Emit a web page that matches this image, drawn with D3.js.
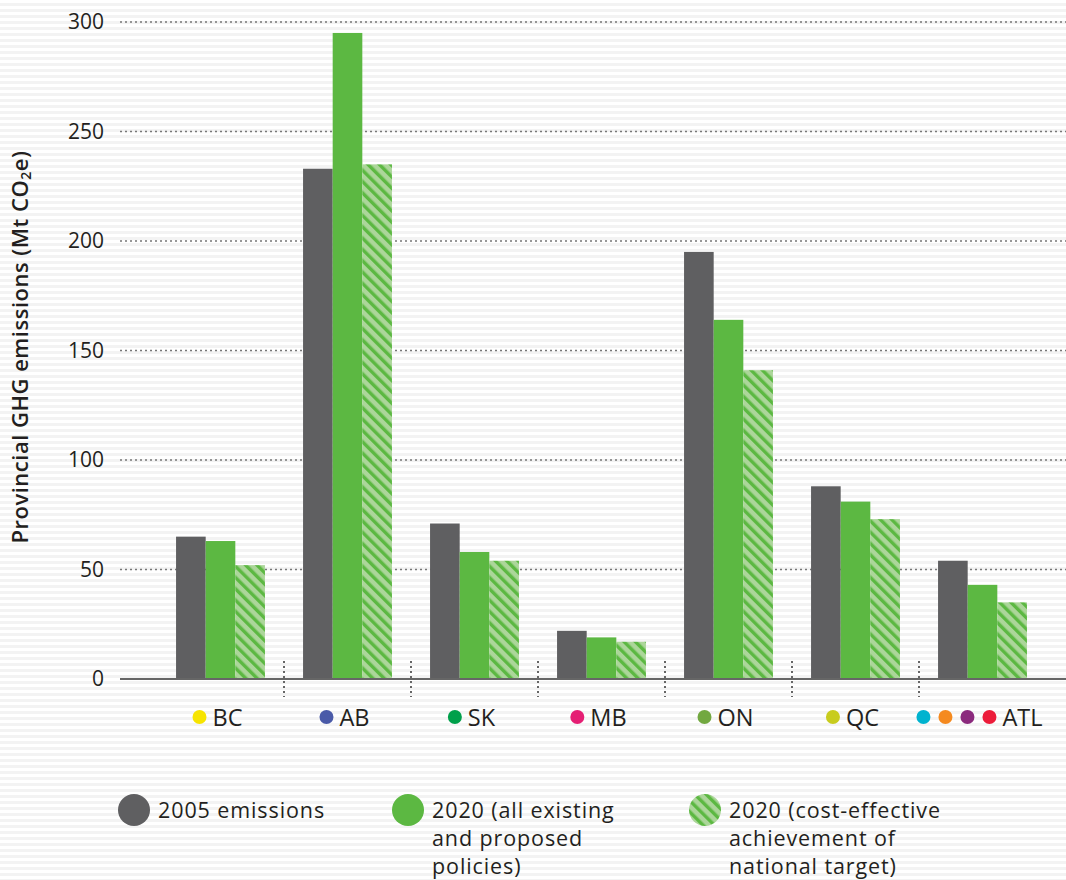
<!DOCTYPE html>
<html>
<head>
<meta charset="utf-8">
<script src="https://cdnjs.cloudflare.com/ajax/libs/d3/7.8.5/d3.min.js"></script>
<style>
  body { margin: 0; background: #fff; }
  svg { display: block; font-family: "Open Sans", sans-serif; }
</style>
</head>
<body>
<svg id="chart" width="1066" height="880"></svg>
<script>
// provinces and the dots shown next to each label
const provinces = ["BC", "AB", "SK", "MB", "ON", "QC", "ATL"];
const provinceDots = [
    ["#f7e400"], ["#4a5aa8"], ["#00a04b"], ["#e51f74"], ["#72a840"], ["#c8cc1e"],
    ["#00b3cf", "#f58a1f", "#8b2a7d", "#ec1c3a"]
];

// Mt CO2e
const emissions2005 = [65, 233, 71, 22, 195, 88, 54];
const policies2020 = [63, 295, 58, 19, 164, 81, 43];
const target2020 = [52, 235, 54, 17, 141, 73, 35];

const seriesNames = ["e2005", "p2020", "t2020"];
const legendLabels = [
    ["2005 emissions"],
    ["2020 (all existing", "and proposed", "policies)"],
    ["2020 (cost-effective", "achievement of", "national target)"]
];
const yTicks = [0, 50, 100, 150, 200, 250, 300];

const svg = d3.select("#chart");
const W = 1066, H = 880;
const plotLeft = 120, plotRight = 1066, yTop = 22, yBottom = 679;
const textColor = "#231f20";

const defs = svg.append("defs");
// faint horizontal stripes of the background
const bg = defs.append("pattern").attr("id", "stripes")
    .attr("patternUnits", "userSpaceOnUse").attr("width", 10).attr("height", 6);
bg.append("rect").attr("width", 10).attr("height", 6).attr("fill", "#ffffff");
bg.append("rect").attr("y", 3).attr("width", 10).attr("height", 3).attr("fill", "#f3f3f3");

// hatched fill, stripes running down to the right
const hatch = defs.append("pattern").attr("id", "hatch")
    .attr("patternUnits", "userSpaceOnUse").attr("width", 8).attr("height", 8)
    .attr("patternTransform", "rotate(-45)");
hatch.append("rect").attr("width", 8).attr("height", 8).attr("fill", "#acd69a");
hatch.append("rect").attr("width", 3.4).attr("height", 8).attr("fill", "#5cb842");

svg.append("rect").attr("width", W).attr("height", H).attr("fill", "url(#stripes)");

const y = d3.scaleLinear().domain([0, 300]).range([yBottom, yTop]);
const x0 = d3.scaleBand().domain(provinces).range([157, 1046]).paddingInner(0.3).paddingOuter(0.15);
const x1 = d3.scaleBand().domain(seriesNames).range([0, x0.bandwidth()]);
const fills = { e2005: "#5f5f61", p2020: "#5cb842", t2020: "url(#hatch)" };

// gridlines
svg.append("g").selectAll("line").data(yTicks.slice(1)).enter().append("line")
    .attr("x1", plotLeft).attr("x2", plotRight)
    .attr("y1", d => y(d)).attr("y2", d => y(d))
    .attr("stroke", "#777").attr("stroke-width", 1.5).attr("stroke-dasharray", "2,3");

// y axis labels
const yAxis = d3.axisLeft(y).tickValues(yTicks).tickSize(0).tickPadding(0);
const yg = svg.append("g").attr("transform", "translate(104,0)").call(yAxis);
yg.select(".domain").remove();
yg.selectAll("text").attr("font-size", 21).attr("fill", textColor)
    .attr("font-family", "Open Sans, sans-serif");

svg.append("text")
    .attr("transform", "translate(28,347) rotate(-90)")
    .attr("text-anchor", "middle").attr("font-size", 22).attr("font-weight", 600)
    .attr("letter-spacing", 0.5).attr("fill", textColor)
    .html('Provincial GHG emissions (Mt CO<tspan font-size="14" dy="3">2</tspan><tspan dy="-3">e)</tspan>');

// bars
const rows = provinces.map((p, i) => ({
    p: p,
    vals: [
        { k: "e2005", v: emissions2005[i] },
        { k: "p2020", v: policies2020[i] },
        { k: "t2020", v: target2020[i] }
    ]
}));
const groups = svg.append("g").selectAll("g").data(rows).enter().append("g")
    .attr("transform", d => "translate(" + x0(d.p) + ",0)");
groups.selectAll("rect").data(d => d.vals).enter().append("rect")
    .attr("x", d => x1(d.k)).attr("width", x1.bandwidth())
    .attr("y", d => y(d.v)).attr("height", d => y(0) - y(d.v))
    .attr("fill", d => fills[d.k]);

// baseline
svg.append("line").attr("x1", plotLeft).attr("x2", plotRight)
    .attr("y1", yBottom).attr("y2", yBottom)
    .attr("stroke", "#666").attr("stroke-width", 2);

// separators between provinces
const step = x0.step();
svg.append("g").selectAll("line").data(provinces.slice(1)).enter().append("line")
    .attr("x1", d => x0(d) - (step - x0.bandwidth()) / 2)
    .attr("x2", d => x0(d) - (step - x0.bandwidth()) / 2)
    .attr("y1", 661).attr("y2", 697)
    .attr("stroke", "#666").attr("stroke-width", 2).attr("stroke-dasharray", "2,3");

// province labels with dots
rows.forEach((d, i) => {
    const dots = provinceDots[i];
    const g = svg.append("g");
    const t = g.append("text").attr("y", 726).attr("font-size", 23.5).attr("fill", textColor).text(d.p);
    const tw = t.node().getComputedTextLength();
    const r = 7, gap = 6, dotGap = 8;
    const dotsW = dots.length * (2 * r) + (dots.length - 1) * dotGap;
    const total = dotsW + gap + tw;
    let start = x0(d.p) + x0.bandwidth() / 2 - total / 2 - 3;
    dots.forEach((c, j) => {
        g.append("circle").attr("cx", start + r + j * (2 * r + dotGap)).attr("cy", 717).attr("r", r).attr("fill", c);
    });
    t.attr("x", start + dotsW + gap);
});

// legend
const legendX = [134, 408, 705];
const legendFill = ["#5f5f61", "#5cb842", "url(#hatch)"];
legendLabels.forEach((lines, i) => {
    svg.append("circle").attr("cx", legendX[i]).attr("cy", 810).attr("r", 16).attr("fill", legendFill[i]);
    const t = svg.append("text").attr("x", legendX[i] + 24).attr("y", 818)
        .attr("font-size", 21.5).attr("letter-spacing", 0.9).attr("fill", textColor);
    lines.forEach((l, j) => {
        t.append("tspan").attr("x", legendX[i] + 24).attr("dy", j === 0 ? 0 : 28).text(l);
    });
});
</script>
</body>
</html>
